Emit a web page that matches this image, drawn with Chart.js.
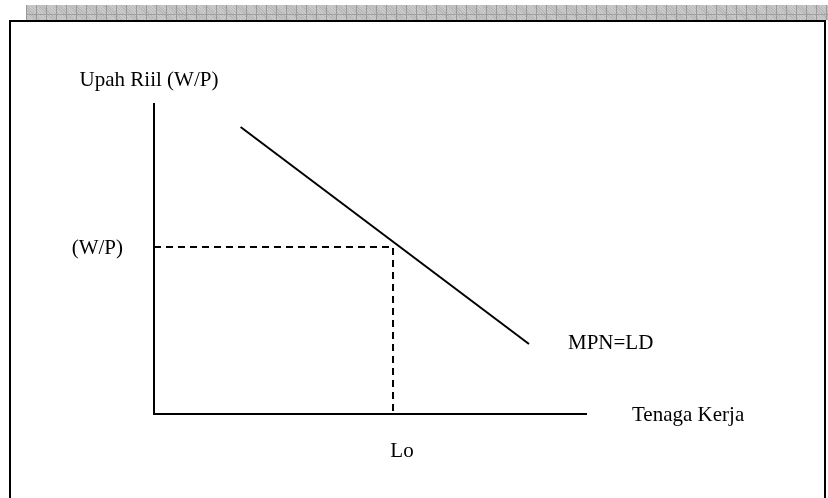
<!DOCTYPE html>
<html>
<head>
<meta charset="utf-8">
<script src="https://cdn.jsdelivr.net/npm/chart.js@4.4.1/dist/chart.umd.min.js"></script>
<style>
  html, body { margin: 0; padding: 0; background: #fff; }
  #wrap { position: relative; width: 828px; height: 498px; overflow: hidden; }
  .hatch {
    position: absolute; left: 26px; top: 5px; width: 802px; height: 15px;
    background-color: #c2c2c2;
    background-image:
      linear-gradient(to bottom, transparent 9px, #a0a0a0 9px, #a0a0a0 10px, transparent 10px),
      repeating-linear-gradient(to right, #999 0, #999 1px, transparent 1px, transparent 10px),
      repeating-linear-gradient(45deg, #cccccc 0, #cccccc 1px, #b8b8b8 1px, #b8b8b8 2px);
  }
  .box {
    position: absolute; left: 9px; top: 20px; width: 813px; height: 500px;
    border: 2px solid #000; border-bottom: none;
  }
  canvas { position: absolute; left: 0; top: 0; }
</style>
</head>
<body>
<div id="wrap">
  <div class="hatch"></div>
  <div class="box"></div>
  <canvas id="chartLabour" width="828" height="498"></canvas>
</div>
<script>
// sumbu (axes) in data units
const axisX = [0, 0, 10];
const axisY = [10, 0, 0];
// kurva permintaan tenaga kerja MPN = LD
const mpnX = [2.0, 8.66];
const mpnY = [9.23, 2.25];
// titik keseimbangan (W/P), Lo
const eqX = [0, 5.52, 5.52];
const eqY = [5.37, 5.37, 0];

const labels = {
  yTitle: "Upah Riil (W/P)",
  xTitle: "Tenaga Kerja",
  curve: "MPN=LD",
  wage: "(W/P)",
  labour: "Lo",
};

const pts = (xs, ys) => xs.map((x, i) => ({ x: x, y: ys[i] }));

const textPlugin = {
  id: "textLabels",
  afterDatasetsDraw(chart) {
    const ctx = chart.ctx;
    const sx = chart.scales.x;
    const sy = chart.scales.y;
    ctx.save();
    ctx.fillStyle = "#000";
    ctx.font = '21px "Liberation Serif", "Times New Roman", serif';
    ctx.textBaseline = "middle";

    ctx.textAlign = "center";
    ctx.fillText(labels.yTitle, sx.getPixelForValue(axisX[0]) - 5, sy.getPixelForValue(axisY[0]) - 23);

    ctx.textAlign = "right";
    ctx.fillText(labels.wage, sx.getPixelForValue(0) - 31, sy.getPixelForValue(eqY[0]) + 1);

    ctx.textAlign = "left";
    ctx.fillText(labels.curve, sx.getPixelForValue(mpnX[1]) + 39, sy.getPixelForValue(mpnY[1]) - 1);
    ctx.fillText(labels.xTitle, sx.getPixelForValue(axisX[2]) + 45, sy.getPixelForValue(0) + 1);

    ctx.textAlign = "center";
    ctx.fillText(labels.labour, sx.getPixelForValue(eqX[1]) + 9, sy.getPixelForValue(0) + 37);
    ctx.restore();
  },
};

new Chart(document.querySelector("#chartLabour"), {
  type: "line",
  data: {
    datasets: [
      {
        label: "Sumbu",
        data: pts(axisX, axisY),
        borderColor: "#000",
        borderWidth: 2,
        pointRadius: 0,
        tension: 0,
        fill: false,
        clip: false,
      },
      {
        label: "MPN=LD",
        data: pts(mpnX, mpnY),
        borderColor: "#000",
        borderWidth: 2,
        pointRadius: 0,
        tension: 0,
        fill: false,
        clip: false,
      },
      {
        label: "Keseimbangan",
        data: pts(eqX, eqY),
        borderColor: "#000",
        borderWidth: 2,
        borderDash: [7, 5],
        pointRadius: 0,
        tension: 0,
        fill: false,
        clip: false,
      },
    ],
  },
  options: {
    responsive: false,
    animation: false,
    layout: {
      padding: { left: 154, right: 241, top: 103, bottom: 84 },
    },
    scales: {
      x: { type: "linear", min: 0, max: 10, display: false },
      y: { type: "linear", min: 0, max: 10, display: false },
    },
    plugins: {
      legend: { display: false },
      tooltip: { enabled: false },
    },
  },
  plugins: [textPlugin],
});
</script>
</body>
</html>
